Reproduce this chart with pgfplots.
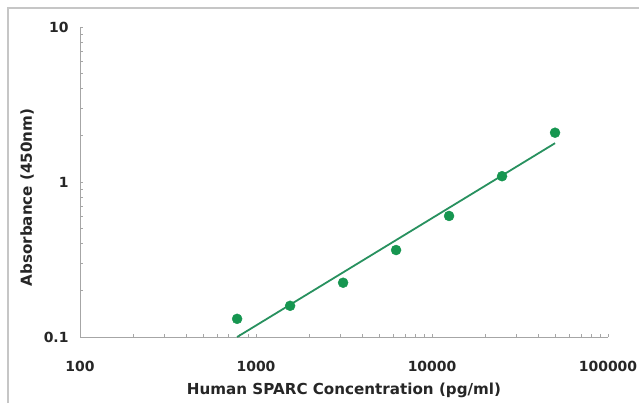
\documentclass[border=0pt]{standalone}
\usepackage{pgfplots}
\pgfplotsset{compat=1.18}
\usepackage{fontspec}
\setmainfont{DejaVu Sans}
\definecolor{ptgreen}{RGB}{22,150,80}
\definecolor{lngreen}{RGB}{40,145,95}
\begin{document}
\begin{tikzpicture}[x=1bp,y=1bp]
\useasboundingbox (0,0) rectangle (639,403);
\fill[white] (0,0) rectangle (639,403);
\draw[gray!45,line width=1.5bp] (8,0) -- (8,395) -- (639,395);
\begin{axis}[
  at={(80bp,66bp)}, anchor=south west,
  scale only axis, width=528bp, height=310bp,
  xmode=log, ymode=log,
  xmin=100, xmax=100000, ymin=0.1, ymax=10,
  axis x line*=bottom, axis y line*=left,
  axis line style={gray!70, line width=0.8bp},
  every tick/.style={gray!70, line width=0.5bp},
  major tick length=3bp, minor tick length=3bp,
  xtick={100,1000,10000,100000},
  xticklabels={100,1000,10000,100000},
  ytick={0.1,1,10},
  yticklabels={0.1,1,10},
  /pgf/number format/assume math mode=true,
  tick label style={font=\fontsize{14}{16}\selectfont\bfseries, black!85},
  xticklabel style={yshift=-21bp},
  yticklabel style={xshift=-8bp},
  xlabel={Human SPARC Concentration (pg/ml)},
  ylabel={Absorbance (450nm)},
  label style={font=\fontsize{15.2}{18}\selectfont\bfseries, black!85},
  xlabel style={yshift=-4bp},
  ylabel style={at={(ticklabel cs:0.45)}, yshift=3bp},
  clip=false,
]
\addplot[lngreen, line width=1.8bp, no markers] coordinates {
  (781.25,0.1) (50000,1.78)
};
\addplot[only marks, mark=*, mark size=5bp, ptgreen, mark options={draw=ptgreen, fill=ptgreen}] coordinates {
  (781.25,0.131)
  (1562.5,0.159)
  (3125,0.224)
  (6250,0.364)
  (12500,0.604)
  (25000,1.09)
  (50000,2.08)
};
\end{axis}
\end{tikzpicture}
\end{document}
